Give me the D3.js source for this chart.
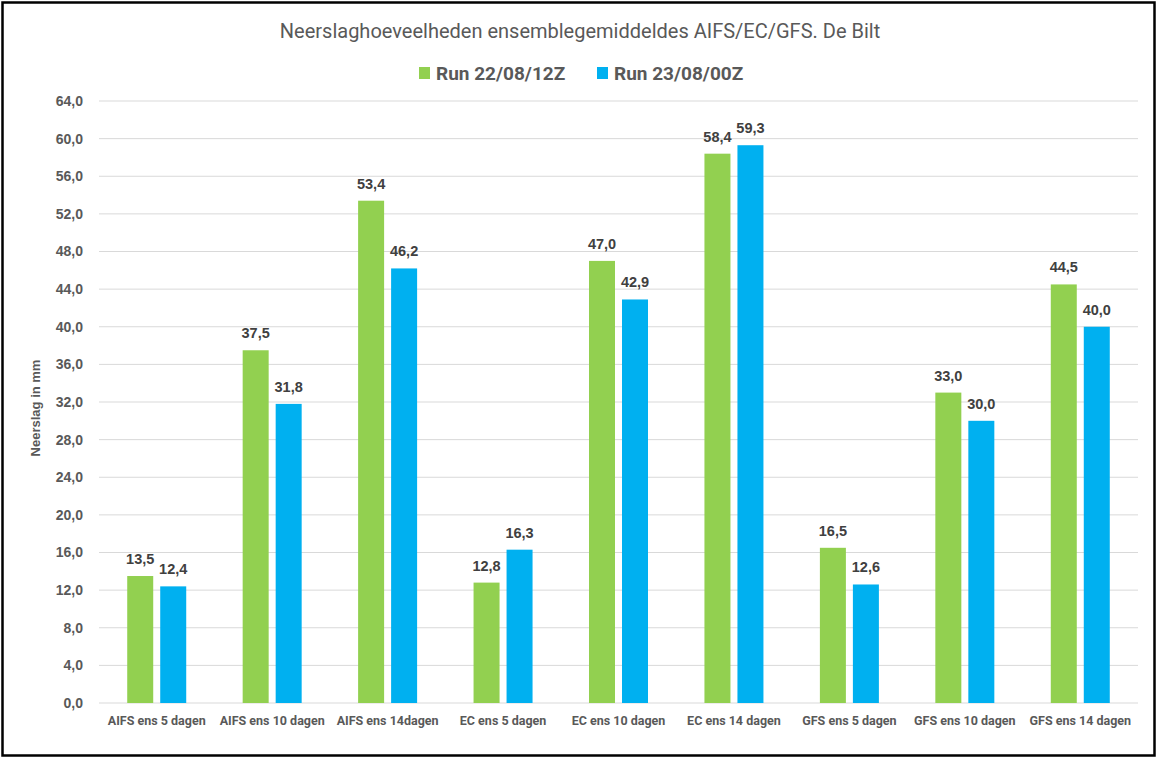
<!DOCTYPE html>
<html><head><meta charset="utf-8">
<script src="https://cdn.jsdelivr.net/npm/d3@7"></script>
<style>
html,body{margin:0;padding:0;background:#fff;}
text{font-family:"Liberation Sans Narrow","Roboto","Liberation Sans",Arial,sans-serif;}
</style></head>
<body>
<svg id="chart" width="1159" height="759"></svg>
<script>
const categories = ["AIFS ens 5 dagen","AIFS ens 10 dagen","AIFS ens 14dagen","EC ens 5 dagen","EC ens 10 dagen","EC ens 14 dagen","GFS ens 5 dagen","GFS ens 10 dagen","GFS ens 14 dagen"];
const seriesNames = ["Run 22/08/12Z","Run 23/08/00Z"];
const run1 = [13.5,37.5,53.4,12.8,47.0,58.4,16.5,33.0,44.5];
const run2 = [12.4,31.8,46.2,16.3,42.9,59.3,12.6,30.0,40.0];
const yTicks = [0,4,8,12,16,20,24,28,32,36,40,44,48,52,56,60,64];
const colors = ["#92D050","#00B0F0"];

const svg = d3.select("#chart");
const m = {left:99, right:1138, top:101, bottom:703};

svg.append("rect").attr("x",2.5).attr("y",2.5).attr("width",1152).attr("height",753)
  .attr("fill","#fff").attr("stroke","#000").attr("stroke-width",2.5);

const x = d3.scaleBand().domain(categories).range([m.left,m.right]).paddingInner(0).paddingOuter(0);
const y = d3.scaleLinear().domain([0,64]).range([m.bottom,m.top]);
const barW = 26, gap = 7;
const fmt = v => d3.format(".1f")(v).replace(".",",");

// gridlines
svg.append("g").selectAll("line").data(yTicks).join("line")
  .attr("x1",m.left).attr("x2",m.right)
  .attr("y1",d=>y(d)).attr("y2",d=>y(d))
  .attr("stroke","#D9D9D9").attr("stroke-width",1);

// y axis labels
const yAxis = d3.axisLeft(y).tickValues(yTicks).tickFormat(fmt).tickSize(0).tickPadding(0);
const gy = svg.append("g").attr("transform",`translate(${83},0)`).call(yAxis);
gy.select(".domain").remove();
gy.selectAll("text").attr("fill","#595959").style("font-size","14px").style("font-weight","bold")
  .style("font-family","'Liberation Sans',Arial,sans-serif");

// x axis labels
const xAxis = d3.axisBottom(x).tickSize(0).tickPadding(0);
const gx = svg.append("g").attr("transform",`translate(0,${716})`).call(xAxis);
gx.select(".domain").remove();
gx.selectAll("text").attr("fill","#595959").style("font-size","12.5px").style("font-weight","bold");

// bars
const series = [run1, run2];
series.forEach((vals,si)=>{
  const off = si===0 ? -gap/2 - barW : gap/2;
  const g = svg.append("g");
  g.selectAll("rect").data(vals).join("rect")
    .attr("x",(d,i)=>x(categories[i]) + x.bandwidth()/2 + off)
    .attr("y",d=>y(d)).attr("width",barW).attr("height",d=>y(0)-y(d))
    .attr("fill",colors[si]);
  g.selectAll("text").data(vals).join("text")
    .attr("x",(d,i)=>x(categories[i]) + x.bandwidth()/2 + off + barW/2)
    .attr("y",d=>y(d)-12)
    .attr("text-anchor","middle").attr("fill","#404040")
    .style("font-size","14.5px").style("font-weight","bold")
    .style("font-family","'Liberation Sans',Arial,sans-serif")
    .text(d=>fmt(d));
});

// axis title
svg.append("text").attr("transform","translate(40,408) rotate(-90)")
  .attr("text-anchor","middle").attr("fill","#595959")
  .style("font-size","13px").style("font-weight","bold")
  .style("font-family","'Liberation Sans',Arial,sans-serif")
  .text("Neerslag in mm");

// title
svg.append("text").attr("x",580).attr("y",38).attr("text-anchor","middle")
  .attr("fill","#595959").style("font-size","20px")
  .text("Neerslaghoeveelheden ensemblegemiddeldes AIFS/EC/GFS. De Bilt");

// legend
const legX = [419, 597];
seriesNames.forEach((n,i)=>{
  svg.append("rect").attr("x",legX[i]).attr("y",67).attr("width",11).attr("height",12).attr("fill",colors[i]);
  svg.append("text").attr("x",legX[i]+17).attr("y",80).attr("fill","#595959")
    .style("font-size","19px").style("font-weight","bold").text(n);
});
</script>
</body></html>
